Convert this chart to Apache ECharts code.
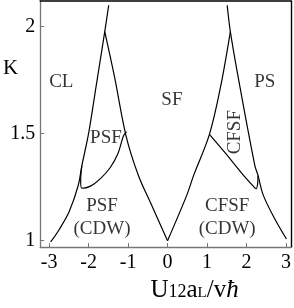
<!DOCTYPE html>
<html><head><meta charset="utf-8">
<script src="https://cdn.jsdelivr.net/npm/echarts@6/dist/echarts.min.js"></script>
<style>html,body{margin:0;padding:0;background:#fff}#c{width:294px;height:308px}</style>
</head><body><div id="c"></div>
<script>
const xTicks = [-3, -2, -1, 0, 1, 2, 3];
const yTicks = [1, 1.5, 2];
const leftOuter = [[-2.96,0.994],[-2.75,1.05],[-2.49,1.136],[-2.26,1.259],[-2.17,1.35],[-2.0,1.5],[-1.81,1.72],[-1.59,1.977],[-1.49,2.10]];
const leftInner = [[0.0,1.0],[-0.41,1.169],[-0.74,1.306],[-1.05,1.489],[-1.34,1.763],[-1.59,1.977]];
const leftLoop = [[-2.17,1.35],[-2.2,1.28],[-2.17,1.245],[-1.95,1.255],[-1.70,1.29],[-1.45,1.342],[-1.25,1.41],[-1.12,1.488],[-1.04,1.51]];
const rightInner = [[0.0,1.0],[0.49,1.214],[0.66,1.305],[1.06,1.497],[1.34,1.717],[1.59,1.977]];
const rightOuter = [[1.51,2.10],[1.59,1.977],[1.79,1.762],[2.21,1.351],[2.29,1.305],[2.42,1.214],[2.72,1.10],[3.01,1.008]];
const rightLoop = [[1.06,1.497],[1.46,1.41],[1.88,1.315],[2.17,1.255],[2.24,1.243],[2.28,1.265],[2.29,1.305]];
const regionNames = ['CL','SF','PS','PSF','CFSF','PSF\n(CDW)','CFSF\n(CDW)'];
const regionX = [-2.69, 0.11, 2.46, -1.56, 1.71, -1.66, 1.51];
const regionK = [1.74, 1.659, 1.74, 1.479, 1.507, 1.106, 1.106];
const regionRotate = [0, 0, 0, 0, 90, 0, 0];

const serif = 'Liberation Serif';
const chart = echarts.init(document.getElementById('c'));
const lineSeries = [leftOuter, leftInner, leftLoop, rightInner, rightOuter, rightLoop].map(d => ({
  type: 'line', data: d, smooth: 0.35, symbol: 'none', silent: true,
  lineStyle: {color: '#000', width: 1.2}, clip: true
}));
const labelData = regionNames.map((n, i) => ({
  name: n, value: [regionX[i], regionK[i]],
  label: {rotate: regionRotate[i]}
}));
chart.setOption({
  animation: false,
  grid: {left: 37.5, right: 2.5, top: 1, bottom: 55},
  xAxis: [{
    type: 'value', min: -3.225, max: 3.125, position: 'bottom',
    axisLine: {onZero: false, lineStyle: {color: '#777', width: 1.3}},
    axisTick: {inside: true, length: 4, customValues: xTicks, lineStyle: {color: '#777'}},
    axisLabel: {customValues: xTicks, fontFamily: serif, fontSize: 20, color: '#000', margin: 6},
    splitLine: {show: false},
    name: '{m|U}{s|12}{m|a}{t|L}{m|/v}{h|ħ}',
    nameLocation: 'middle', nameGap: 19,
    nameTextStyle: {
      fontFamily: serif,
      padding: [0, 0, 0, 58],
      rich: {
        m: {fontFamily: serif, fontSize: 25, lineHeight: 23, verticalAlign: 'top', color: '#000'},
        h: {fontFamily: serif, fontSize: 25, lineHeight: 23, verticalAlign: 'top', color: '#000', fontStyle: 'italic'},
        s: {fontFamily: serif, fontSize: 18, lineHeight: 10, verticalAlign: 'bottom', color: '#000'},
        t: {fontFamily: serif, fontSize: 15, lineHeight: 8, verticalAlign: 'bottom', color: '#000'}
      }
    }
  }, {
    type: 'value', min: -3.225, max: 3.125, position: 'top',
    axisLine: {onZero: false, lineStyle: {color: '#000', width: 1.6}},
    axisTick: {show: false}, axisLabel: {show: false}, splitLine: {show: false}
  }],
  yAxis: [{
    type: 'value', min: 0.97, max: 2.12, position: 'left',
    axisLine: {onZero: false, lineStyle: {color: '#777', width: 1.3}},
    axisTick: {inside: true, length: 4, customValues: yTicks, lineStyle: {color: '#777'}},
    axisLabel: {customValues: yTicks, fontFamily: serif, fontSize: 20, color: '#000', margin: 5},
    splitLine: {show: false},
    name: 'K', nameLocation: 'end', nameGap: -67,
    nameTextStyle: {fontFamily: serif, fontSize: 21, color: '#000', align: 'right', verticalAlign: 'middle', padding: [0, 22, 0, 0]}
  }, {
    type: 'value', min: 0.97, max: 2.12, position: 'right',
    axisLine: {onZero: false, lineStyle: {color: '#000', width: 1.4}},
    axisTick: {show: false}, axisLabel: {show: false}, splitLine: {show: false}
  }],
  series: lineSeries.concat([{
    type: 'scatter', symbolSize: 0, silent: true, data: labelData,
    label: {show: true, position: 'inside', formatter: p => p.name, fontFamily: serif, fontSize: 19, lineHeight: 23, color: '#000', align: 'center', verticalAlign: 'middle'}
  }])
});
</script></body></html>
